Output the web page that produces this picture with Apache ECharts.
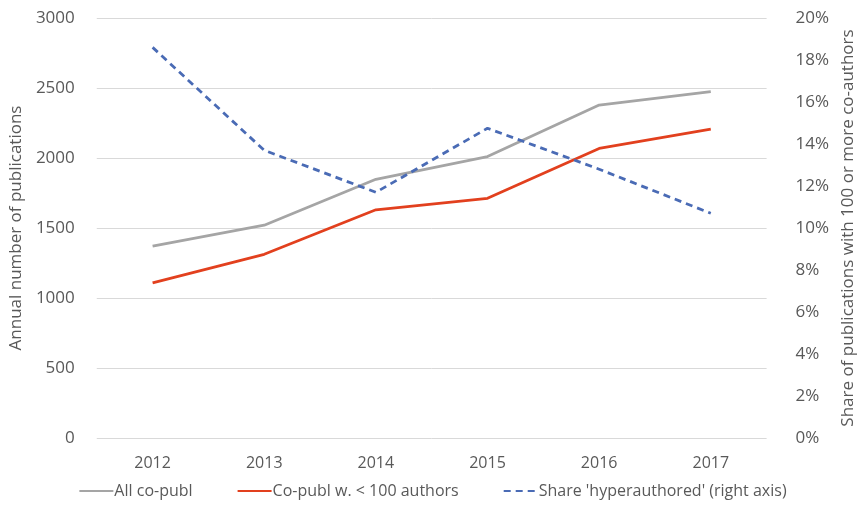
<!DOCTYPE html>
<html><head><meta charset="utf-8">
<script src="https://cdn.jsdelivr.net/npm/echarts@6/dist/echarts.min.js"></script>
<style>html,body{margin:0;padding:0;background:#fff}#c{width:865px;height:510px}</style>
</head><body><div id="c"></div>
<script>
const years = ['2012','2013','2014','2015','2016','2017'];
const allCoPubl = [1370, 1520, 1848, 2010, 2378, 2474];
const coPublUnder100 = [1108, 1312, 1630, 1712, 2068, 2207];
const shareHyper = [18.6, 13.7, 11.7, 14.75, 12.8, 10.7];
const leftTicks = [0, 500, 3000];
const rightTicks = [0, 2, 20];

const txt = '#595959';
const font = 'Open Sans';
const chart = echarts.init(document.getElementById('c'));
chart.setOption({
  animation: false,
  textStyle: {fontFamily: font},
  grid: {left: 95, right: 89, top: 18, bottom: 72},
  legend: {
    top: 478, left: 'center', itemGap: 44, itemWidth: 34, itemHeight: 12,
    itemStyle: {opacity: 0},
    textStyle: {color: txt, fontSize: 16, fontFamily: font, padding: [0, 0, 0, -4]},
    data: ['All co-publ', 'Co-publ w. < 100 authors', "Share 'hyperauthored' (right axis)"]
  },
  xAxis: {
    type: 'category', data: years, boundaryGap: true,
    axisLine: {show: false}, axisTick: {show: false},
    axisLabel: {color: txt, fontSize: 16, margin: 17}
  },
  yAxis: [{
    type: 'value', min: leftTicks[0], max: leftTicks[2], interval: leftTicks[1],
    name: 'Annual number of publications', nameLocation: 'middle', nameGap: 70, nameRotate: 90,
    nameTextStyle: {color: txt, fontSize: 17},
    axisLine: {show: false}, axisTick: {show: false},
    axisLabel: {color: txt, fontSize: 17, margin: 22, formatter: v => String(v)},
    splitLine: {lineStyle: {color: '#d9d9d9', width: 1}}
  }, {
    type: 'value', min: rightTicks[0], max: rightTicks[2], interval: rightTicks[1],
    name: 'Share of publications with 100 or more co-authors', nameLocation: 'middle', nameGap: 69, nameRotate: 90,
    nameTextStyle: {color: txt, fontSize: 17},
    axisLine: {show: false}, axisTick: {show: false},
    axisLabel: {color: txt, fontSize: 17, margin: 29, formatter: v => v + '%'},
    splitLine: {show: false}
  }],
  series: [{
    name: 'All co-publ', type: 'line', data: allCoPubl, yAxisIndex: 0,
    symbol: 'none', lineStyle: {color: '#a5a5a5', width: 2.8}, itemStyle: {color: '#a5a5a5'}
  }, {
    name: 'Co-publ w. < 100 authors', type: 'line', data: coPublUnder100, yAxisIndex: 0,
    symbol: 'none', lineStyle: {color: '#e2401e', width: 2.8}, itemStyle: {color: '#e2401e'}
  }, {
    name: "Share 'hyperauthored' (right axis)", type: 'line', data: shareHyper, yAxisIndex: 1,
    symbol: 'none', lineStyle: {color: '#4a6bb5', width: 2.8, type: [7, 5]}, itemStyle: {color: '#4a6bb5'}
  }]
});
</script></body></html>
